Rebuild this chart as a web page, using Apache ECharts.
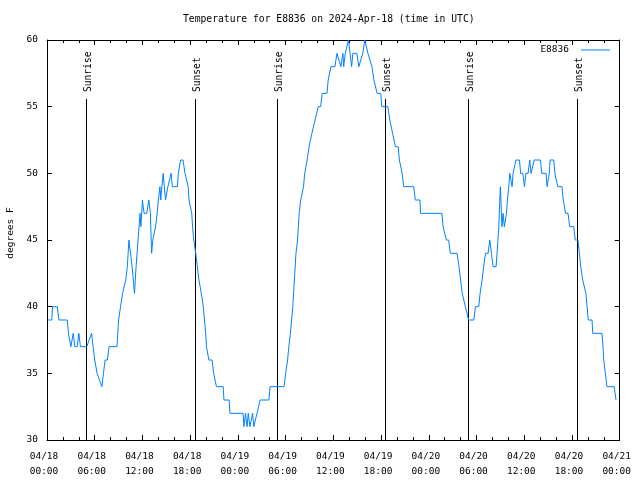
<!DOCTYPE html>
<html>
<head>
<meta charset="utf-8">
<script src="https://cdn.jsdelivr.net/npm/echarts@6/dist/echarts.min.js"></script>
<style>html,body{margin:0;padding:0;background:#fff;}#c{width:640px;height:480px;}</style>
</head>
<body>
<div id="c"></div>
<script>
// ---- data ----
const titleText = 'Temperature for E8836 on 2024-Apr-18 (time in UTC)';
const seriesName = 'E8836';
const yAxisName = 'degrees F';
// x tick labels every 6 hours from 04/18 00:00 to 04/21 00:00
const xTickLabels = ['04/18\n00:00','04/18\n06:00','04/18\n12:00','04/18\n18:00',
  '04/19\n00:00','04/19\n06:00','04/19\n12:00','04/19\n18:00',
  '04/20\n00:00','04/20\n06:00','04/20\n12:00','04/20\n18:00','04/21\n00:00'];
// sunrise / sunset markers (hours since 04/18 00:00 UTC)
const sunHours = [4.93, 18.6, 28.89, 42.52, 52.95, 66.65];
const sunNames = ['Sunrise','Sunset','Sunrise','Sunset','Sunrise','Sunset'];
// observations: hours since 04/18 00:00 UTC, and temperature in degrees F
const obsHours = [
  0.15,0.6,0.7,1.3,1.5,2.55,2.7,2.9,3.0,3.3,
  3.5,3.8,4.0,4.2,5.0,5.6,5.8,6.0,6.3,6.9,
  7.1,7.3,7.6,7.8,8.8,9.0,9.25,9.5,9.9,10.1,
  10.3,10.5,10.7,11.0,11.2,11.45,11.7,11.8,12.0,12.2,
  12.55,12.8,13.0,13.15,13.3,13.65,13.85,14.0,14.2,14.3,
  14.4,14.6,14.75,14.9,15.1,15.2,15.6,15.75,16.4,16.5,
  16.8,17.1,17.35,17.55,17.75,17.85,18.05,18.2,18.3,18.45,
  18.7,18.9,19.1,19.4,19.65,19.8,19.95,20.05,20.2,20.35,
  20.75,20.95,21.15,21.3,22.15,22.25,22.9,23.0,
  24.65,24.75,24.95,25.15,25.3,25.5,25.75,25.85,26.0,26.25,
  26.4,26.6,26.8,27.9,28.05,29.8,30.0,30.25,30.4,30.6,
  30.9,31.1,31.3,31.5,31.7,31.9,32.05,32.25,32.4,32.7,
  32.95,33.15,33.3,33.7,33.9,34.1,34.4,34.6,35.2,35.35,
  35.55,35.7,36.2,36.45,36.7,36.95,37.2,37.3,37.5,37.7,
  37.9,38.1,38.3,38.45,38.95,39.2,39.45,39.7,39.95,40.15,
  40.35,40.6,40.85,41.1,41.35,41.5,41.95,42.1,42.85,43.1,
  43.35,43.45,43.8,44.15,44.3,44.5,44.65,44.85,46.1,46.3,
  46.9,46.95,
  49.65,49.8,50.0,50.2,50.5,50.7,51.55,51.8,52.0,52.2,
  52.4,52.6,52.8,53.0,53.66,53.87,54.28,54.45,54.7,54.9,
  55.13,55.45,55.67,55.88,56.08,56.46,56.58,56.71,56.8,56.92,
  57.0,57.13,57.2,57.33,57.5,57.63,57.76,57.89,58.05,58.18,
  58.34,58.47,58.6,58.81,58.95,59.4,59.55,59.81,60.03,60.2,
  60.48,60.69,60.86,61.07,61.25,62.04,62.2,62.74,62.87,63.0,
  63.15,63.25,63.71,63.85,64.05,64.21,64.75,64.9,65.09,65.2,
  65.5,65.72,66.22,66.4,66.76,66.93,67.1,67.35,67.6,67.75,
  67.9,68.05,68.52,68.61,69.78,69.9,70.0,70.2,70.4,71.3,
  71.54
];
const obsTempF = [
  39,39,40,40,39,39,38,38,37,38,
  37,37,38,37,37,38,37,36,35,34,
  35,36,36,37,37,39,40,41,42,43,
  45,45,43,41,43,45,47,46,48,47,
  47,48,47,44,45,46,47,48,49,48,
  48,50,49,48,48,49,50,49,49,50,
  51,51,50,50,49,48,48,47,46,45,
  44,43,42,41,40,39,38,37,37,36,
  36,35,35,34,34,33,33,32,
  32,31,32,31,32,31,31,32,31,31,
  32,32,33,33,34,34,35,36,37,38,
  40,42,44,45,47,48,48,49,50,51,
  52,52,53,54,54,55,55,56,56,57,
  57,58,58,59,59,58,59,58,59,59,
  60,59,58,59,59,58,58,59,60,60,
  59,59,58,57,57,56,56,55,55,54,
  54,53,52,52,51,51,50,49,49,48,
  48,47,
  47,46,46,45,45,44,44,43,42,41,
  41,40,40,39,39,40,40,41,42,43,
  44,44,45,44,43,43,44,44,46,48,
  49,47,46,47,46,46,47,48,49,50,
  50,49,50,50,51,51,50,50,49,50,
  50,51,50,50,51,51,50,50,49,49,
  50,51,51,50,50,49,49,48,48,47,
  47,46,46,45,45,44,43,42,42,41,
  40,39,39,38,38,37,36,35,34,34,
  33
];
const yMin = 30, yMax = 60, yStep = 5;
const xMin = 0, xMax = 72, xStep = 6;

// ---- chart ----
const FONT = '"DejaVu Sans Mono", monospace';
const FS = 9.5;
const lineData = obsHours.map((h, i) => [h, obsTempF[i]]);
const chart = echarts.init(document.getElementById('c'), null, {renderer: 'canvas'});

const baseX = {
  type: 'value', min: xMin, max: xMax, interval: xStep,
  axisLine: {show: true, onZero: false, lineStyle: {color: '#000', width: 1}},
  axisTick: {show: true, inside: true, length: 5, lineStyle: {color: '#000'}},
  minorTick: {show: true, splitNumber: 3, length: 3, lineStyle: {color: '#000'}},
  splitLine: {show: false}, minorSplitLine: {show: false}
};
const baseY = {
  type: 'value', min: yMin, max: yMax, interval: yStep,
  axisLine: {show: true, onZero: false, lineStyle: {color: '#000', width: 1}},
  axisTick: {show: true, inside: true, length: 5, lineStyle: {color: '#000'}},
  splitLine: {show: false}
};

chart.setOption({
  animation: false,
  backgroundColor: '#fff',
  title: {
    text: titleText, left: 183, top: 14, padding: 0,
    textStyle: {fontFamily: FONT, fontSize: 9.7, fontWeight: 'normal', color: '#000'}
  },
  legend: {
    data: [{name: seriesName, icon: 'rect'}], right: 30, top: 45, align: 'right',
    padding: 0, itemWidth: 29, itemHeight: 1,
    textStyle: {fontFamily: FONT, fontSize: FS, color: '#000', padding: [0, 7, 0, 0]}
  },
  grid: {left: 47, right: 19, top: 40, bottom: 40, containLabel: false},
  xAxis: [
    Object.assign({}, baseX, {
      position: 'bottom',
      axisLabel: {
        show: true, margin: 9, lineHeight: 15, color: '#000',
        fontFamily: FONT, fontSize: FS, padding: [0, 6, 0, 0],
        formatter: v => xTickLabels[Math.round((v - xMin) / xStep)] || ''
      }
    }),
    Object.assign({}, baseX, {position: 'top', axisLabel: {show: false}})
  ],
  yAxis: [
    Object.assign({}, baseY, {
      position: 'left',
      axisLabel: {show: true, margin: 9, color: '#000', fontFamily: FONT, fontSize: FS}
    }),
    Object.assign({}, baseY, {position: 'right', axisLabel: {show: false}})
  ],
  graphic: [{
    type: 'text', x: 11, y: 233, rotation: Math.PI / 2,
    style: {text: yAxisName, font: FS + 'px ' + FONT, fill: '#000', align: 'center', verticalAlign: 'middle'}
  }],
  series: [
    {
      name: seriesName, type: 'line', data: lineData,
      xAxisIndex: 0, yAxisIndex: 0,
      symbol: 'none', showSymbol: false, smooth: false,
      lineStyle: {color: '#0080ff', width: 1},
      itemStyle: {color: '#0080ff'},
      z: 3
    },
    {
      name: 'sun', type: 'custom', xAxisIndex: 0, yAxisIndex: 0,
      data: sunHours.map(h => [h]),
      encode: {x: 0},
      z: 2,
      renderItem: function (params, api) {
        const t = api.value(0);
        const bottom = api.coord([t, yMin]);
        const top = api.coord([t, yMax]);
        const x = Math.round(bottom[0]) + 0.5;
        return {
          type: 'group',
          children: [
            {type: 'line', shape: {x1: x, y1: top[1] + 59, x2: x, y2: bottom[1]},
             style: {stroke: '#000', lineWidth: 1}},
            {type: 'text', x: x + 1.5, y: top[1] + 52, rotation: Math.PI / 2,
             style: {text: sunNames[params.dataIndex], font: '9.6px ' + FONT, fill: '#000',
                     align: 'left', verticalAlign: 'middle'}}
          ]
        };
      }
    }
  ]
});
</script>
</body>
</html>
